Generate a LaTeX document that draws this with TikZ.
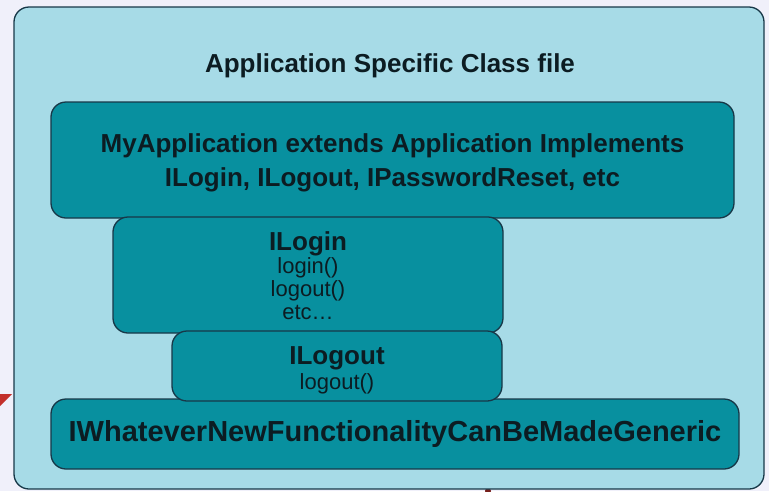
\documentclass[tikz,border=0pt]{standalone}
\usepackage{fontspec}
\setmainfont{Liberation Sans}
\definecolor{pagebg}{HTML}{F0F0FA}
\definecolor{panelfill}{HTML}{A7DBE7}
\definecolor{boxfill}{HTML}{08909F}
\definecolor{edge}{HTML}{173848}
\definecolor{ink}{HTML}{0C1C22}
\definecolor{pointer}{HTML}{C3302B}
\tikzset{
  panel/.style={draw=edge, line width=1.3pt, fill=panelfill, rounded corners=15pt},
  ifacebox/.style={draw=edge, line width=1.3pt, fill=boxfill, rounded corners=15pt,
    text=ink, align=center, inner sep=0pt},
  boldtxt/.style={font=\bfseries\fontsize{26}{33}\selectfont, text=ink},
}
\begin{document}
\begin{tikzpicture}[x=1pt,y=-1pt]
  % page background and fixed frame
  \fill[pagebg] (0,0) rectangle (769,491);
  \useasboundingbox (0,0) rectangle (769,491);

  % pieces of items peeking in from behind the panel
  \fill[pointer] (0,394) -- (12,394) -- (0,406) -- cycle;
  \fill[pointer!60!black] (488,491) circle (3);

  % the enclosing class-file panel
  \draw[panel] (14,7) rectangle (764,489);
  \node[boldtxt] (title) at (390,66) {Application Specific Class file};

  % stacked interface boxes
  \node[ifacebox, minimum width=688pt, minimum height=70pt,
    font=\bfseries\fontsize{29}{33}\selectfont] (generic) at (395,434)
    {IWhateverNewFunctionalityCanBeMadeGeneric};

  \node[ifacebox, minimum width=683pt, minimum height=116pt] (myapp) at (392.5,160) {};
  \node[boldtxt, align=center, font=\bfseries\fontsize{26}{34}\selectfont]
    (myapptext) at (392.5,163)
    {MyApplication extends Application Implements\\ILogin, ILogout, IPasswordReset, etc};

  \node[ifacebox, minimum width=390pt, minimum height=116pt] (ilogin) at (308,275) {};
  \node[boldtxt, anchor=base] (iloginname) at (308,250) {ILogin};
  \node[font=\fontsize{22}{23}\selectfont, text=ink, align=center, anchor=north]
    (iloginops) at (308,254) {login()\\logout()\\etc\ldots};

  \node[ifacebox, minimum width=330pt, minimum height=70pt] (ilogout) at (337,366) {};
  \node[boldtxt, anchor=base] (ilogoutname) at (337,364) {ILogout};
  \node[font=\fontsize{22}{23}\selectfont, text=ink, anchor=base]
    (ilogoutops) at (337,389) {logout()};
\end{tikzpicture}
\end{document}
